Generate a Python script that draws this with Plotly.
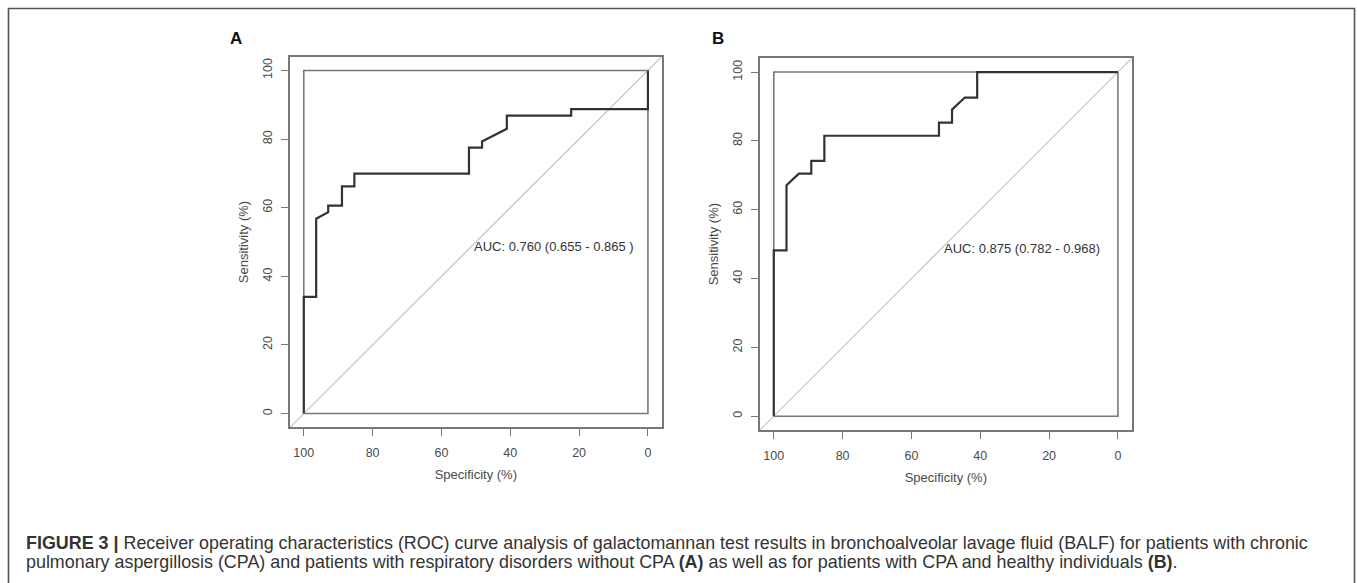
import plotly.graph_objects as go

# ---- data ----
spec_A = [100, 100, 96.4, 96.4, 92.9, 92.9, 88.9, 88.9, 85.3, 85.3, 52.0, 52.0, 48.2, 48.2, 41.0, 41.0, 22.3, 22.3, 0, 0]
sens_A = [0, 34.0, 34.0, 56.8, 58.7, 60.6, 60.6, 66.2, 66.2, 69.9, 69.9, 77.5, 77.5, 79.3, 83.0, 86.8, 86.8, 88.7, 88.7, 100]

spec_B = [100, 100, 96.3, 96.3, 92.7, 89.1, 89.1, 85.3, 85.3, 52.0, 52.0, 48.2, 48.2, 44.5, 40.9, 40.9, 0]
sens_B = [0, 48.2, 48.2, 67.1, 70.5, 70.5, 74.2, 74.2, 81.5, 81.5, 85.3, 85.3, 89.1, 92.6, 92.6, 100, 100]

auc_A = "AUC: 0.760 (0.655 - 0.865 )"
auc_B = "AUC: 0.875 (0.782 - 0.968)"
auc_pos = (51, 48.7)

panel_labels = ["A", "B"]
tick_vals = [0, 20, 40, 60, 80, 100]
axis_lo, axis_hi = -4, 104
box_lo, box_hi = 0, 100

caption_lines = [
    "<b>FIGURE 3 |</b> Receiver operating characteristics (ROC) curve analysis of galactomannan test results "
    "in bronchoalveolar lavage fluid (BALF) for patients with chronic",
    "pulmonary aspergillosis (CPA) and patients with respiratory disorders without CPA <b>(A)</b> as well as "
    "for patients with CPA and healthy individuals <b>(B)</b>.",
]

W, H = 1357, 583
FONT = "Liberation Sans, Arial, sans-serif"

def px_x(p):
    return p / W

def px_y(p):
    return 1 - p / H

# panel outer boxes in pixels (x0, x1, ytop, ybottom)
boxes = [(290, 661.7, 56.7, 427.3), (760, 1131.7, 58.3, 430.0)]

fig = go.Figure()

curves = [(spec_A, sens_A), (spec_B, sens_B)]
for i, (sx, sy) in enumerate(curves):
    ax = "" if i == 0 else "2"
    fig.add_trace(go.Scatter(x=sx, y=sy, mode="lines",
                             line=dict(color="#333333", width=2.2),
                             xaxis="x" + ax, yaxis="y" + ax, showlegend=False,
                             hoverinfo="skip"))

axis_font = dict(family=FONT, size=12.5, color="#4a4a4a")
title_font = dict(family=FONT, size=13, color="#4a4a4a")
for i, (x0, x1, yt, yb) in enumerate(boxes):
    ax = "" if i == 0 else "2"
    common = dict(tickvals=tick_vals, showgrid=False, zeroline=False,
                  showline=True, linecolor="#777777", linewidth=1.6, mirror=True,
                  ticks="outside", ticklen=7, tickcolor="#777777", tickwidth=1.4,
                  tickfont=axis_font)
    fig.layout["xaxis" + ax] = dict(common, range=[axis_hi, axis_lo], domain=[px_x(x0), px_x(x1)],
                                    anchor="y" + ax, ticklabelstandoff=6,
                                    title=dict(text="Specificity (%)", font=title_font, standoff=11))
    fig.layout["yaxis" + ax] = dict(common, range=[axis_lo, axis_hi], domain=[px_y(yb), px_y(yt)],
                                    anchor="x" + ax, tickangle=-90, ticklabelstandoff=4,
                                    title=dict(text="Sensitivity (%)", font=title_font, standoff=10))
    xr, yr = "x" + ax, "y" + ax
    # inner box at the data limits
    fig.add_shape(type="rect", xref=xr, yref=yr, x0=box_hi, x1=box_lo, y0=box_lo, y1=box_hi,
                  line=dict(color="#777777", width=1.6), layer="below")
    # chance diagonal
    fig.add_shape(type="line", xref=xr, yref=yr, x0=axis_hi, y0=axis_lo, x1=axis_lo, y1=axis_hi,
                  line=dict(color="#c4c4c4", width=1.2), layer="below")
    fig.add_annotation(xref=xr, yref=yr, x=auc_pos[0], y=auc_pos[1], text=[auc_A, auc_B][i],
                       showarrow=False, xanchor="left", yanchor="middle",
                       font=dict(family=FONT, size=13, color="#333333"))

# panel letters
for lbl, xp in zip(panel_labels, [235.7, 718]):
    fig.add_annotation(xref="paper", yref="paper", x=px_x(xp), y=px_y(38), text="<b>" + lbl + "</b>",
                       showarrow=False, xanchor="center", yanchor="middle",
                       font=dict(family=FONT, size=17, color="#111111"))

# caption (two lines)
for line, yp in zip(caption_lines, [543, 562]):
    fig.add_annotation(xref="paper", yref="paper", x=px_x(24), y=px_y(yp), text=line,
                       showarrow=False, xanchor="left", yanchor="middle", align="left",
                       font=dict(family=FONT, size=17.9, color="#333333"))

# outer figure frame
fig.add_shape(type="rect", xref="paper", yref="paper", x0=px_x(8.5), x1=px_x(1354.5), y0=-0.1, y1=px_y(8.5),
              line=dict(color="#555555", width=1.6), layer="below")

fig.update_layout(width=W, height=H, margin=dict(l=0, r=0, t=0, b=0),
                  paper_bgcolor="white", plot_bgcolor="white")

fig.write_html("out.html", config={"displayModeBar": False},
               post_script="document.body.style.margin='0px';document.body.style.overflow='hidden';")
